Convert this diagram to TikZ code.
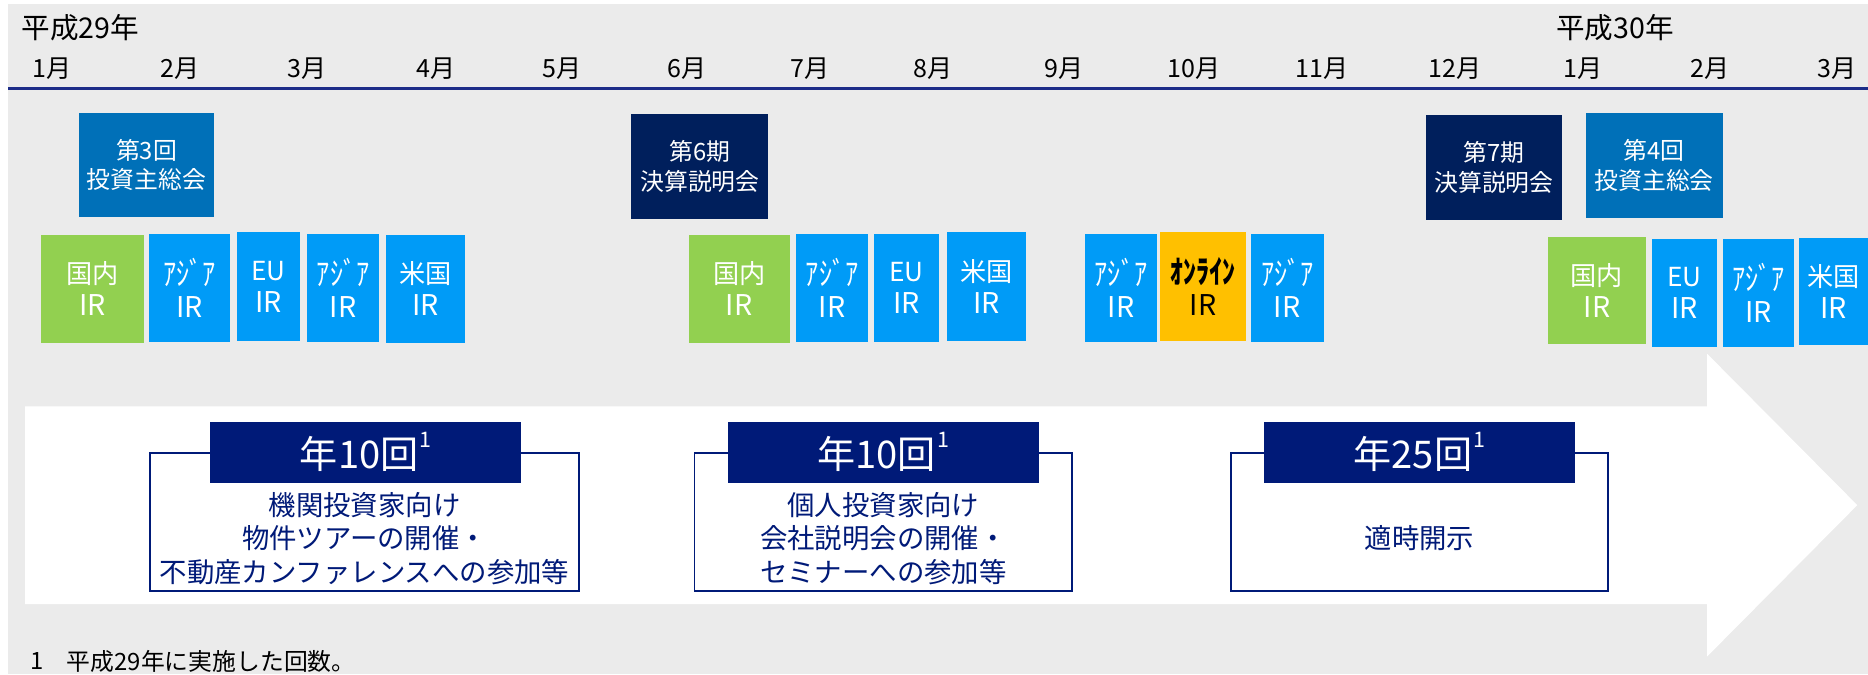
\documentclass[tikz,border=0pt]{standalone}
\usepackage{fontspec}
\usepackage{graphicx}
\setmainfont{Noto Sans CJK JP}
\definecolor{bggrey}{HTML}{EBEBEB}
\definecolor{navy}{HTML}{001A78}
\definecolor{tlline}{HTML}{1C2C88}
\definecolor{midblue}{HTML}{0070B8}
\definecolor{darknavy}{HTML}{001F5C}
\definecolor{ltblue}{HTML}{009BF7}
\definecolor{irgreen}{HTML}{92D050}
\definecolor{iryellow}{HTML}{FFC000}
\tikzset{
  yeartxt/.style={font=\fontsize{24}{24}\selectfont, text=black, inner sep=0pt},
  monthtxt/.style={font=\fontsize{21}{21}\selectfont, text=black, inner sep=0pt},
  evbox/.style={text=white, align=center, inner sep=0pt, font=\fontsize{20}{25}\selectfont},
  irbox/.style={text=white, align=center, inner sep=0pt, font=\fontsize{22}{27}\selectfont},
  hdrbox/.style={fill=navy, text=white, inner sep=0pt, minimum width=261pt, minimum height=51pt, font=\fontsize{32}{32}\selectfont},
  outbox/.style={draw=navy, line width=1.5pt, fill=white, inner sep=0pt, minimum height=116pt},
  bodytxt/.style={text=navy, align=center, inner sep=0pt, font=\fontsize{23}{28}\selectfont},
  foottxt/.style={text=black, inner sep=0pt, anchor=west, font=\fontsize{20}{20}\selectfont}
}
\newcommand{\supone}{\kern1pt\raisebox{0.55em}{\fontsize{18}{18}\selectfont 1}}
\newcommand{\hwk}[1]{\scalebox{1}[1.22]{#1}}
\newcommand{\irtxt}{{\fontsize{24}{24}\selectfont IR}}
\begin{document}
\begin{tikzpicture}[x=1pt,y=-1pt]
\useasboundingbox (0,0) rectangle (1568,566);
\fill[white] (0,0) rectangle (1568,566);
\fill[bggrey] (7,3) rectangle (1568,566);
% big white arrow
\fill[white] (21,341) -- (1433,341) -- (1433,297) -- (1559,424) -- (1433,551) -- (1433,507) -- (21,507) -- cycle;
% timeline
\coordinate (tlstart) at (7,74);
\coordinate (tlend) at (1568,74);
\draw[tlline, line width=2.4pt] (tlstart) -- (tlend);
% years
\node[yeartxt] (y29) at (67.5,23) {平成29年};
\node[yeartxt] (y30) at (1355.5,23) {平成30年};
% months
\foreach \x/\t [count=\i] in {44/1月,151/2月,258/3月,366/4月,472/5月,577/6月,680/7月,783/8月,893/9月,1002/10月,1110/11月,1221/12月,1329/1月,1435/2月,1542/3月}
  \node[monthtxt] (m\i) at (\x,58) {\t};
% event boxes
\node[evbox, fill=midblue, minimum width=114pt, minimum height=87pt] (t1) at (123,138.5) {第3回\\投資主総会};
\node[evbox, fill=darknavy, minimum width=115pt, minimum height=88pt] (t2) at (587.5,140) {第6期\\決算説明会};
\node[evbox, fill=darknavy, minimum width=114pt, minimum height=88pt] (t3) at (1254,140.5) {第7期\\決算説明会};
\node[evbox, fill=midblue, minimum width=115pt, minimum height=88pt] (t4) at (1388.5,139) {第4回\\投資主総会};
% IR boxes
\node[irbox, fill=irgreen, minimum width=87pt, minimum height=91pt] (a1) at (77.5,242.5) {国内\\\irtxt};
\node[irbox, fill=ltblue, minimum width=68pt, minimum height=91pt] (a2) at (159,241.5) {\hwk{ｱｼﾞｱ}\\\irtxt};
\node[irbox, fill=ltblue, minimum width=53pt, minimum height=91pt] (a3) at (225.5,240.5) {EU\\\irtxt};
\node[irbox, fill=ltblue, minimum width=60pt, minimum height=91pt] (a4) at (288,241.5) {\hwk{ｱｼﾞｱ}\\\irtxt};
\node[irbox, fill=ltblue, minimum width=66pt, minimum height=91pt] (a5) at (357,242.5) {米国\\\irtxt};
\node[irbox, fill=irgreen, minimum width=85pt, minimum height=91pt] (b1) at (620.5,242.5) {国内\\\irtxt};
\node[irbox, fill=ltblue, minimum width=61pt, minimum height=91pt] (b2) at (698.5,241.5) {\hwk{ｱｼﾞｱ}\\\irtxt};
\node[irbox, fill=ltblue, minimum width=54pt, minimum height=91pt] (b3) at (761,241.5) {EU\\\irtxt};
\node[irbox, fill=ltblue, minimum width=66pt, minimum height=91pt] (b4) at (828,240.5) {米国\\\irtxt};
\node[irbox, fill=ltblue, minimum width=60pt, minimum height=91pt] (c1) at (941,241.5) {\hwk{ｱｼﾞｱ}\\\irtxt};
\node[irbox, fill=iryellow, text=black, minimum width=72pt, minimum height=91pt] (c2) at (1010,240.5) {\hwk{\textbf{ｵﾝﾗｲﾝ}}\\\irtxt};
\node[irbox, fill=ltblue, minimum width=61pt, minimum height=91pt] (c3) at (1080.5,241.5) {\hwk{ｱｼﾞｱ}\\\irtxt};
\node[irbox, fill=irgreen, minimum width=83pt, minimum height=90pt] (d1) at (1340.5,244) {国内\\\irtxt};
\node[irbox, fill=ltblue, minimum width=54pt, minimum height=90pt] (d2) at (1414,246) {EU\\\irtxt};
\node[irbox, fill=ltblue, minimum width=60pt, minimum height=90pt] (d3) at (1476,246) {\hwk{ｱｼﾞｱ}\\\irtxt};
\node[irbox, fill=ltblue, minimum width=58pt, minimum height=90pt] (d4) at (1539,245) {米国\\\irtxt};
% summary boxes
\node[outbox, minimum width=360pt] (o1) at (306,438) {};
\node[hdrbox] (h1) at (307,379.5) {年10回\supone};
\node[bodytxt] (x1) at (306,452) {機関投資家向け\\物件ツアーの開催・\\不動産カンファレンスへの参加等};
\node[outbox, minimum width=317pt] (o2) at (741.5,438) {};
\node[hdrbox] (h2) at (741.5,379.5) {年10回\supone};
\node[bodytxt] (x2) at (741.5,452) {個人投資家向け\\会社説明会の開催・\\セミナーへの参加等};
\node[outbox, minimum width=317pt] (o3) at (1191.5,438) {};
\node[hdrbox] (h3) at (1191.5,379.5) {年25回\supone};
\node[bodytxt] (x3) at (1191.5,452) {適時開示};
% footnote
\node[foottxt] (fn1) at (25,555) {1};
\node[foottxt] (fn2) at (56,555) {平成29年に実施した回数。};
\end{tikzpicture}
\end{document}
